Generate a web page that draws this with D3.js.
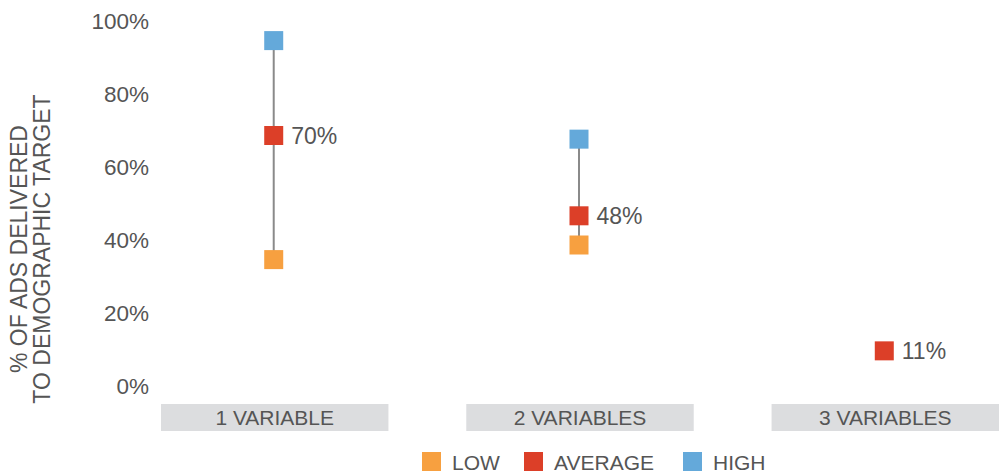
<!DOCTYPE html>
<html lang="en">
<head>
    <meta charset="UTF-8">
    <title>Ads delivered to demographic target</title>
    <script src="https://d3js.org/d3.v7.min.js"></script>
    <style>
        html, body {
            margin: 0;
            padding: 0;
            background: #fff;
            overflow: hidden;
        }
        text {
            font-family: "Liberation Sans", Arial, sans-serif;
            fill: #555;
        }
    </style>
</head>
<body>
    <script>
        // Chart values
        const categories = ["1 VARIABLE", "2 VARIABLES", "3 VARIABLES"];
        const lowValues = [36, 40, null];
        const avgValues = [70, 48, 11];
        const highValues = [96, 69, null];
        const yTicks = [0, 20, 40, 60, 80, 100];
        const seriesNames = ["LOW", "AVERAGE", "HIGH"];
        const seriesColors = ["#F7A040", "#DC3F28", "#64A9DA"];

        const width = 1001, height = 474;
        const svg = d3.select("body").append("svg")
            .attr("width", width)
            .attr("height", height);

        const x = d3.scaleBand()
            .domain(categories)
            .range([161, 999])
            .paddingInner(0.255)
            .paddingOuter(0);

        const y = d3.scaleLinear()
            .domain([0, 100])
            .range([391, 26]);

        // Y axis (labels only)
        const yAxis = svg.append("g")
            .attr("transform", "translate(149,0)")
            .call(d3.axisLeft(y).tickValues(yTicks).tickSize(0).tickPadding(0)
                .tickFormat(d => d + "%"));
        yAxis.select(".domain").remove();
        yAxis.selectAll("text")
            .attr("dy", "0.34em")
            .attr("y", -5)
            .style("font-size", "22.5px")
            .style("font-family", "'Liberation Sans', Arial, sans-serif")
            .attr("fill", "#555");

        // Axis title, two lines rotated
        const title = svg.append("text")
            .attr("transform", "translate(0,249) rotate(-90)")
            .attr("text-anchor", "middle")
            .style("font-size", "23px");
        title.append("tspan").attr("x", 0).attr("y", 27).text("% OF ADS DELIVERED");
        title.append("tspan").attr("x", 0).attr("y", 50).text("TO DEMOGRAPHIC TARGET");

        // Category bands below the plot
        const band = svg.append("g");
        band.selectAll("rect")
            .data(categories)
            .join("rect")
            .attr("x", d => x(d))
            .attr("y", 404)
            .attr("width", x.bandwidth())
            .attr("height", 27)
            .attr("fill", "#DCDDDF");
        band.selectAll("text")
            .data(categories)
            .join("text")
            .attr("x", d => x(d) + x.bandwidth() / 2)
            .attr("y", 418)
            .attr("dy", "0.35em")
            .attr("text-anchor", "middle")
            .style("font-size", "21px")
            .text(d => d);

        const rows = categories.map((c, i) => ({
            cat: c, low: lowValues[i], avg: avgValues[i], high: highValues[i]
        }));
        const cx = d => x(d.cat) + x.bandwidth() / 2 - 1;

        // Range lines
        svg.append("g").selectAll("line")
            .data(rows.filter(d => d.low != null && d.high != null))
            .join("line")
            .attr("x1", cx).attr("x2", cx)
            .attr("y1", d => y(d.low)).attr("y2", d => y(d.high))
            .attr("stroke", "#8a8a8a")
            .attr("stroke-width", 2);

        // Markers
        const size = 19;
        const keys = ["low", "avg", "high"];
        keys.forEach((k, ki) => {
            svg.append("g").selectAll("rect")
                .data(rows.filter(d => d[k] != null))
                .join("rect")
                .attr("x", d => cx(d) - size / 2)
                .attr("y", d => y(d[k]) - size / 2)
                .attr("width", size)
                .attr("height", size)
                .attr("fill", seriesColors[ki]);
        });

        // Average value labels
        svg.append("g").selectAll("text")
            .data(rows)
            .join("text")
            .attr("x", d => cx(d) + size / 2 + 8)
            .attr("y", d => y(d.avg))
            .attr("dy", "0.36em")
            .style("font-size", "23px")
            .text(d => d.avg + "%");

        // Legend
        const legendX = [422, 524, 683];
        const legend = svg.append("g");
        seriesNames.forEach((name, i) => {
            legend.append("rect")
                .attr("x", legendX[i])
                .attr("y", 452)
                .attr("width", 19)
                .attr("height", 19)
                .attr("fill", seriesColors[i]);
            legend.append("text")
                .attr("x", legendX[i] + 30)
                .attr("y", 462)
                .attr("dy", "0.36em")
                .style("font-size", "21px")
                .text(name);
        });
    </script>
</body>
</html>
